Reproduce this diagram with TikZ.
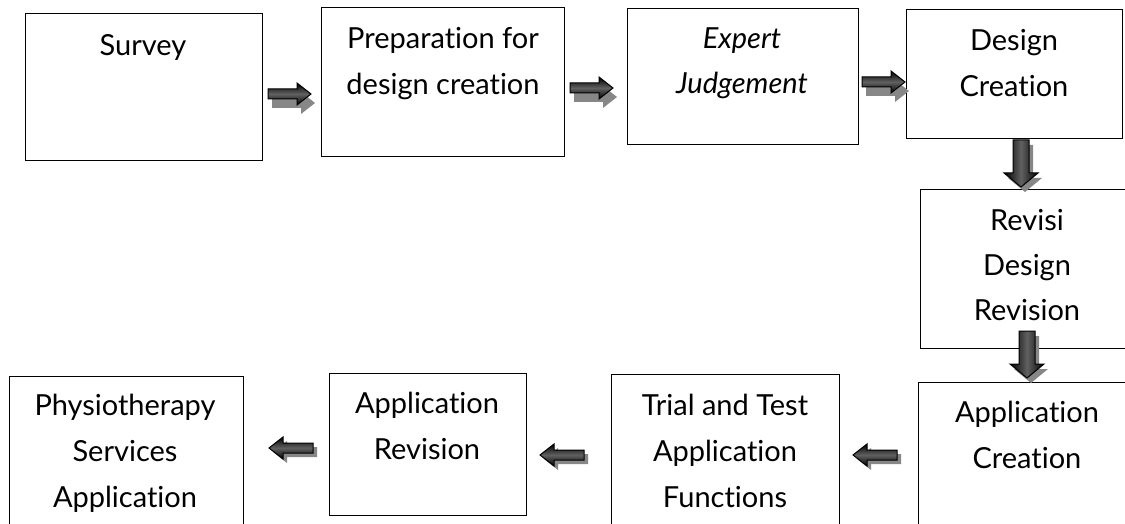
\documentclass[tikz,border=0pt]{standalone}
\usepackage{fontspec}
\setmainfont{Lato}[Ligatures=NoCommon]
\begin{document}
\begin{tikzpicture}[x=1pt,y=-1pt,
  stagebox/.style={draw=black, line width=1.3pt, fill=white, inner sep=0pt, anchor=north west},
  stagetext/.style={anchor=north, inner sep=0pt, align=center, font=\fontsize{29}{46}\selectfont},
  arrowbody/.style={draw=black, line width=1pt},
  arrowshadow/.style={fill=black!47},
  rarr/.pic={
    \fill[arrowshadow] (4,4) -- ++(29,0) -- ++(0,-6) -- ++(14,11) -- ++(-14,11) -- ++(0,-6) -- ++(-29,0) -- cycle;
    \shade[arrowbody, top color=black, bottom color=black, middle color=black!62]
      (0,-5) -- (29,-5) -- (29,-11) -- (43,0) -- (29,11) -- (29,5) -- (0,5) -- cycle;
  },
  larr/.pic={
    \fill[arrowshadow] (4,4) -- ++(14,-11) -- ++(0,6) -- ++(30,0) -- ++(0,10) -- ++(-30,0) -- ++(0,6) -- cycle;
    \shade[arrowbody, top color=black, bottom color=black, middle color=black!62]
      (0,0) -- (14,-11) -- (14,-5) -- (44,-5) -- (44,5) -- (14,5) -- (14,11) -- cycle;
  },
  darr/.pic={
    \fill[arrowshadow] (-4,5) -- (12,5) -- (12,38) -- (21,38) -- (4,52) -- (-13,38) -- (-4,38) -- cycle;
    \shade[arrowbody, left color=black, right color=black, middle color=black!62]
      (-8,0) -- (8,0) -- (8,33) -- (17,33) -- (0,47) -- (-17,33) -- (-8,33) -- cycle;
  }]
\useasboundingbox (0,0) rectangle (1125,524);
\clip (0,0) rectangle (1125,524);

% top row, left to right
\node[stagebox, minimum width=237pt, minimum height=147pt] (survey) at (25,13) {};
\node[stagebox, minimum width=243pt, minimum height=149pt] (prep) at (321,7) {};
\node[stagebox, minimum width=231pt, minimum height=136pt] (expert) at (627,8) {};
\node[stagebox, minimum width=216pt, minimum height=129pt] (design) at (906,9) {};
% right column
\node[stagebox, minimum width=230pt, minimum height=159pt] (revisi) at (920,189) {};
\node[stagebox, minimum width=230pt, minimum height=170pt] (appcreate) at (918,382) {};
% bottom row, right to left
\node[stagebox, minimum width=228pt, minimum height=170pt] (trial) at (611,374) {};
\node[stagebox, minimum width=197pt, minimum height=142pt] (apprev) at (329,373) {};
\node[stagebox, minimum width=234pt, minimum height=170pt] (physio) at (9,376) {};

% labels
\node[stagetext] (surveyT) at (143,31) {\rule{0pt}{24pt}Survey};
\node[stagetext] (prepT) at (443,24) {\rule{0pt}{24pt}Preparation for\\design creation};
\node[stagetext, font=\fontsize{29}{45}\selectfont\itshape] (expertT) at (742,24) {\rule{0pt}{24pt}Expert\\Judgement};
\node[stagetext] (designT) at (1014,26) {\rule{0pt}{24pt}Design\\Creation};
\node[stagetext, font=\fontsize{29}{45}\selectfont] (revisiT) at (1027,206) {\rule{0pt}{24pt}Revisi\\Design\\Revision};
\node[stagetext] (appcreateT) at (1027,398) {\rule{0pt}{24pt}Application\\Creation};
\node[stagetext] (trialT) at (725,391) {\rule{0pt}{24pt}Trial and Test\\Application\\Functions};
\node[stagetext] (apprevT) at (427,389) {\rule{0pt}{24pt}Application\\Revision};
\node[stagetext] (physioT) at (125,391) {\rule{0pt}{24pt}Physiotherapy\\Services\\Application};

% block arrows between the stages
\pic (a1) at (268,94) {rarr};
\pic (a2) at (570,88) {rarr};
\pic (a3) at (862,82) {rarr};
\pic (d1) at (1021,140) {darr};
\pic (d2) at (1027,331) {darr};
\pic (l3) at (853,455) {larr};
\pic (l2) at (540,455) {larr};
\pic (l1) at (269,448) {larr};
\end{tikzpicture}
\end{document}
